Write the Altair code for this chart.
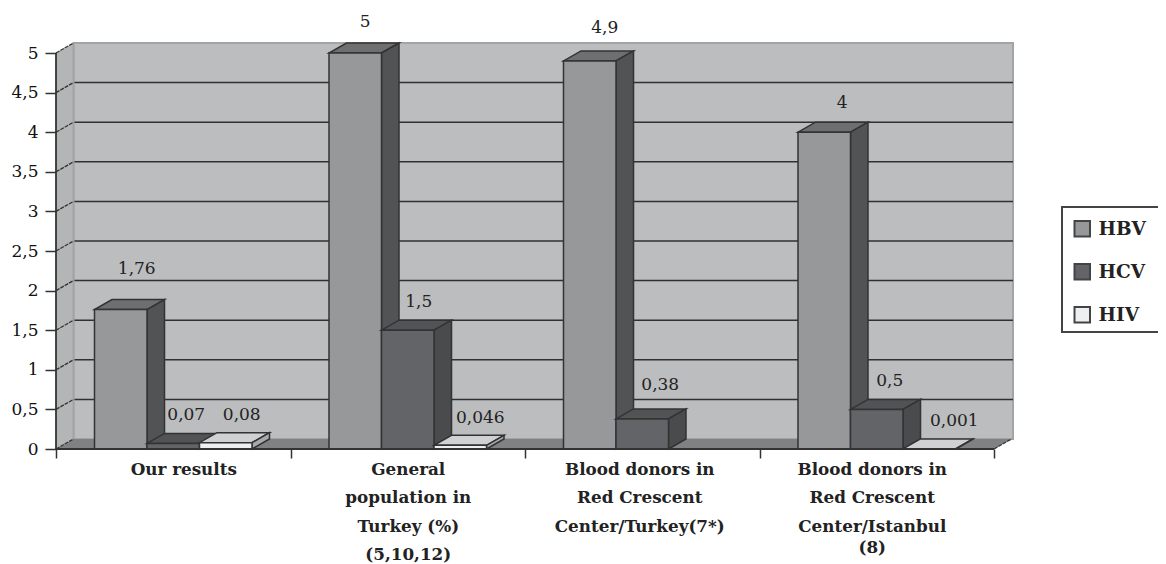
import altair as alt
import pandas as pd

groups = ["Our results", "General|population in|Turkey (%)|(5,10,12)",
          "Blood donors in|Red Crescent|Center/Turkey(7*)",
          "Blood donors in|Red Crescent|Center/Istanbul"]
last_group_note = "(8)"
series = ["HBV", "HCV", "HIV"]
hbv = [1.76, 5, 4.9, 4]
hcv = [0.07, 1.5, 0.38, 0.5]
hiv = [0.08, 0.046, None, 0.001]
labels = {"HBV": ["1,76", "5", "4,9", "4"],
          "HCV": ["0,07", "1,5", "0,38", "0,5"],
          "HIV": ["0,08", "0,046", "", "0,001"]}
y_ticks = [0, 0.5, 1, 1.5, 2, 2.5, 3, 3.5, 4, 4.5, 5]

# layout (pixels converted to data units below)
PXX, PXY = 234.5, 79.2
W, H = 957, 439
XMAX, YMAX = W / PXX, H / PXY
DX, DY = 17.5 / PXX, 10 / PXY
GAP, BW = 38.5 / PXX, 52.5 / PXX
lab_off = {"HBV": [(16, -41), (10, -31), (15, -33), (18, -29)],
           "HCV": [(13, -28), (11, -28), (18, -34), (13, -28)],
           "HIV": [(16, -28), (20, -27), (0, 0), (25, -28)]}
fills = {"HBV": ("#97989a", "#525355", "#6e6f71"),
         "HCV": ("#636467", "#4a4b4d", "#525355"),
         "HIV": ("#eeeff0", "#a8a9ab", "#d0d1d3")}
INK = "#333333"
FONT = "DejaVu Serif"

sx = alt.Scale(domain=[0, XMAX], nice=False, zero=False)
sy = alt.Scale(domain=[0, YMAX], nice=False, zero=False)


def X(f="x", axis=None):
    return alt.X(f"{f}:Q", scale=sx, title=None, axis=axis)


def Y(f="y", axis=None):
    return alt.Y(f"{f}:Q", scale=sy, title=None, stack=None, axis=axis)


def area(rows, fill, stroke=None, sw=1.5):
    kw = dict(fill=fill, orient="vertical", opacity=1)
    if stroke:
        kw.update(stroke=stroke, strokeWidth=sw)
    df = pd.DataFrame(rows, columns=["part", "x", "y", "y2"])
    return alt.Chart(df).mark_area(**kw).encode(x=X(), y=Y(), y2=alt.Y2("y2:Q"), detail="part:N")


def lines(rows, color, sw=1.5, dash=None):
    df = pd.DataFrame(rows, columns=["part", "x", "y"])
    kw = dict(color=color, strokeWidth=sw)
    if dash:
        kw["strokeDash"] = dash
    return alt.Chart(df).mark_line(**kw).encode(x=X(), y=Y(), detail="part:N")


# back wall with y axis
wall = alt.Chart(pd.DataFrame([{"x": DX, "x2": XMAX, "y": DY, "y2": 5 + DY}])).mark_rect(
    fill="#bcbdbf", stroke="#a3a4a6", strokeWidth=2
).encode(
    x=X(axis=alt.Axis(values=[0, 1, 2, 3, 4], labels=False, domain=False, grid=False, ticks=True,
                      tickSize=9, tickColor=INK, tickWidth=1.5, orient="bottom")),
    x2="x2:Q",
    y=Y(axis=alt.Axis(values=y_ticks, format=".1~f", labelExpr="replace(datum.label,'.',',')",
                      domain=False, grid=False, tickSize=11, tickColor=INK, tickWidth=1.5, orient="left",
                      labelFont=FONT, labelFontSize=17, labelColor="#111111", labelPadding=7)),
    y2="y2:Q",
)
# invisible layers carrying the category labels axes
cat_df = pd.DataFrame({"x": [i + 0.5 for i in range(4)], "label": groups})
expr = "{" + ",".join(f"'{i + 0.5}':'{g}'" for i, g in enumerate(groups)) + "}"
label_style = dict(ticks=False, domain=False, grid=False, orient="bottom",
                   labelFont=FONT, labelFontSize=16.8, labelFontWeight="bold", labelColor="#222222",
                   labelAngle=0, labelBaseline="top", labelOverlap=False, labelBound=False, labelFlush=False)
cat_axis = alt.Chart(cat_df).mark_point(opacity=0).encode(
    x=X(axis=alt.Axis(values=[i + 0.5 for i in range(4)],
                      labelExpr=f"split(({expr})[''+datum.value],'|')",
                      labelOffset={"condition": [{"test": "datum.value < 1", "value": 10},
                                                 {"test": "datum.value > 3", "value": -5},
                                                 {"test": "datum.value > 2", "value": -3}], "value": 0},
                      labelLineHeight=28.5, labelPadding=12, **label_style)),
)
note_axis = alt.Chart(cat_df).mark_point(opacity=0).encode(
    x=X(axis=alt.Axis(values=[3.5], labelExpr=f"'{last_group_note}'", labelOffset=-5,
                      labelPadding=90, **label_style)),
)

side_wall = area([("s", 0, 0, 5), ("s", DX, DY, 5 + DY)], "#b4b5b7")
floor = area([("f", 0, 0, 0), ("f", DX, DY, 0), ("f", 4, DY, 0), ("f", 4 + DX, DY, DY)], "#808183")

grid = alt.Chart(pd.DataFrame({"x": [DX] * 9, "x2": [XMAX] * 9, "y": [v + DY for v in y_ticks[1:-1]]})).mark_rule(
    color="#2f3032", strokeWidth=1.5).encode(x=X(), x2="x2:Q", y=Y())
diag_rows = []
for v in y_ticks:
    diag_rows += [(f"d{v}", 0, v), (f"d{v}", DX, v + DY)]
diag_rows += [("e", 4, 0), ("e", 4 + DX, DY)]
diag = lines(diag_rows, "#333333", 1.3, [4, 1])
left_line = lines([("a", DX, DY), ("a", DX, 5 + DY)], "#a3a4a6", 2)
y_line = lines([("b", 0, 0), ("b", 0, 5)], INK, 1.8)
x_line = lines([("c", 0, 0), ("c", 4, 0)], INK, 1.8)

# legend frame runs off the right of the page, as in the reference
legend_box = alt.Chart(pd.DataFrame({"k": [0]})).mark_rect(
    fill="white", stroke="#444444", strokeWidth=2, clip=False
).encode(x=alt.value(1006), x2=alt.value(1130), y=alt.value(197), y2=alt.value(322))

values = {"HBV": hbv, "HCV": hcv, "HIV": hiv}
color_scale = alt.Scale(domain=series, range=[fills[s][0] for s in series])
bars = []
for si, s in enumerate(series):
    front, side, top = [], [], []
    for g, v in enumerate(values[s]):
        if v is None:
            continue
        x0 = g + GAP + si * BW
        x1 = x0 + BW
        front.append({"series": s, "x": x0, "x2": x1, "y": 0, "y2": v})
        side += [(f"{g}", x1, 0, v), (f"{g}", x1 + DX, DY, v + DY)]
        top += [(f"{g}", x0, v, v), (f"{g}", x0 + DX, v, v + DY), (f"{g}", x1, v, v + DY), (f"{g}", x1 + DX, v + DY, v + DY)]
    bars.append(area(top, fills[s][2], INK))
    bars.append(area(side, fills[s][1], INK))
    bars.append(alt.Chart(pd.DataFrame(front)).mark_rect(stroke=INK, strokeWidth=1.5).encode(
        x=X(), x2="x2:Q", y=Y(), y2="y2:Q",
        color=alt.Color("series:N", scale=color_scale, title=None,
                        legend=alt.Legend(orient="none", legendX=1017, legendY=209.5,
                                          padding=0,
                                          symbolType="square", symbolSize=240, symbolStrokeColor="#444444",
                                          symbolStrokeWidth=2, symbolOpacity=1, labelFont=FONT, labelFontSize=18.5,
                                          labelFontWeight="bold", labelColor="#222222", rowPadding=19,
                                          labelOffset=7, values=series))))

lab_rows = []
for si, s in enumerate(series):
    for g, v in enumerate(values[s]):
        if v is None:
            continue
        ox, oy = lab_off[s][g]
        lab_rows.append({"x": g + GAP + si * BW + BW / 2 + ox / PXX, "y": v - oy / PXY, "t": labels[s][g]})
text = alt.Chart(pd.DataFrame(lab_rows)).mark_text(
    font=FONT, fontSize=17, color="#222222", baseline="middle", align="center"
).encode(x=X(), y=Y(), text="t:N")

chart = alt.layer(wall, cat_axis, note_axis, side_wall, floor, grid, left_line, diag, *bars, y_line, x_line, text, legend_box).resolve_axis(
    x="independent", y="independent"
).properties(
    width=W, height=H,
    autosize=alt.AutoSizeParams(type="none"),
    padding={"left": 48, "top": 2, "right": 1150 - 48 - W, "bottom": 556 - 2 - H},
).configure_view(stroke=None)

chart.save("out.html", embed_options={"renderer": "svg", "actions": False})
